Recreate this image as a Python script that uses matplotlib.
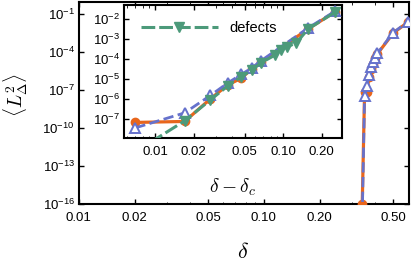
import numpy as np
import matplotlib
matplotlib.use("Agg")
import matplotlib.pyplot as plt
from matplotlib.ticker import FixedLocator, LogLocator, NullFormatter

plt.rcParams['font.family'] = ['Liberation Sans', 'DejaVu Sans']

# critical point and sampled deltas
delta_c = 0.343
delta = [0.34, 0.35, 0.36, 0.37, 0.38, 0.39, 0.40, 0.41, 0.50, 0.60]
# log10 <L^2_Delta>, first entry is the zero value sitting on the axis floor
orange_log = [-16.0, -7.18, -7.13, -6.0, -5.3, -4.97, -4.5, -4.15, -2.5, -1.63]
blue_log = [-17.0, -7.45, -6.7, -5.83, -5.2, -4.78, -4.45, -4.1, -2.45, -1.6]

# defects only in the inset
delta_def = [0.35, 0.36, 0.37, 0.38, 0.39, 0.40, 0.41, 0.43, 0.44, 0.45, 0.47, 0.50, 0.60]
green_log = [-8.65, -7.1, -6.05, -5.35, -4.9, -4.55, -4.2, -3.8, -3.55, -3.4, -3.2, -2.5, -1.65]

main_xticks = [0.01, 0.02, 0.05, 0.1, 0.2, 0.5]
main_xlabels = ['0.01', '0.02', '0.05', '0.10', '0.20', '0.50']
main_yexp = [-16, -13, -10, -7, -4, -1]
ins_xticks = [0.01, 0.02, 0.05, 0.1, 0.2]
ins_xlabels = ['0.01', '0.02', '0.05', '0.10', '0.20']
ins_yexp = [-7, -6, -5, -4, -3, -2]

ORANGE = '#e8661c'
BLUE = '#6672cc'
GREEN = '#4c9a7a'

d = np.array(delta)
y_or = 10.0 ** np.array(orange_log)
y_bl = 10.0 ** np.array(blue_log)
dd = np.array(delta_def) - delta_c
y_gr = 10.0 ** np.array(green_log)


def exp_labels(exps):
    return [r'$\mathregular{10^{%d}}$' % e for e in exps]


def style_axis(a, fs):
    for s in a.spines.values():
        s.set_linewidth(1.5)
    a.tick_params(which='both', direction='in', top=True, right=True,
                  labelsize=fs, width=1.0)
    a.tick_params(which='major', length=3.5)
    a.tick_params(which='minor', length=1.8, width=0.6)
    a.tick_params(axis='x', which='major', pad=6)
    a.tick_params(axis='y', which='major', pad=3)


def set_log_ticks(a, xt, xl, yexp):
    a.xaxis.set_major_locator(FixedLocator(xt))
    a.set_xticklabels(xl)
    a.xaxis.set_minor_locator(LogLocator(subs=np.arange(2, 10)))
    a.xaxis.set_minor_formatter(NullFormatter())
    a.yaxis.set_major_locator(FixedLocator([10.0 ** e for e in yexp]))
    a.set_yticklabels(exp_labels(yexp))
    a.yaxis.set_minor_locator(FixedLocator([]))


fig = plt.figure(figsize=(4.11, 2.70), dpi=100)
ax = fig.add_axes([0.192, 0.2444, 0.803, 0.75])

ax.plot(d, y_or, color=ORANGE, lw=2.3, marker='o', ms=6, zorder=3)
ax.plot(d, y_bl, color=BLUE, lw=2.0, ls='--', marker='^', ms=6.5,
        mfc='white', mec=BLUE, mew=1.4, zorder=4)
ax.set_xscale('log')
ax.set_yscale('log')
ax.set_xlim(0.01, 0.608)
ax.set_ylim(1e-16, 1.0)
set_log_ticks(ax, main_xticks, main_xlabels, main_yexp)
style_axis(ax, 9.5)

fig.text(243 / 411, 1 - 252 / 270, r'$\delta$', fontsize=16,
         math_fontfamily='cm', ha='center', va='center')
fig.text(16 / 411, 1 - 95 / 270, r'$\langle L_\Delta^2\rangle$', fontsize=14,
         math_fontfamily='cm', ha='center', va='center', rotation=90)

# inset
ins = fig.add_axes([0.3017, 0.4889, 0.5304, 0.4926])
ins.plot(d[1:] - delta_c, y_or[1:], color=ORANGE, lw=2.3, marker='o', ms=6, zorder=3)
ins.plot(d[1:] - delta_c, y_bl[1:], color=BLUE, lw=2.0, ls='--', marker='^', ms=6.5,
         mfc='white', mec=BLUE, mew=1.4, zorder=4)
ins.plot(dd, y_gr, color=GREEN, lw=2.2, ls=(0, (4.5, 1.3)), marker='v', ms=6.5,
         label='defects', zorder=5)
ins.set_xscale('log')
ins.set_yscale('log')
ins.set_xlim(0.0057, 0.289)
ins.set_ylim(1.1e-8, 5e-2)
set_log_ticks(ins, ins_xticks, ins_xlabels, ins_yexp)
style_axis(ins, 9.5)

fig.text(233 / 411, 1 - 187 / 270, r'$\delta - \delta_c$', fontsize=14,
         math_fontfamily='cm', ha='center', va='center')
ins.legend(loc='upper left', frameon=False, fontsize=10.5, handlelength=5.3,
           numpoints=1, bbox_to_anchor=(0.05, 0.92), borderaxespad=0.0,
           handletextpad=0.8)

fig.savefig('out.png', dpi=100)
